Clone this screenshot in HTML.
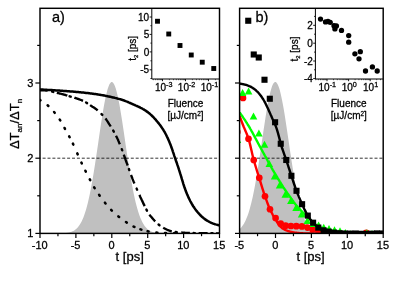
<!DOCTYPE html>
<html><head><meta charset="utf-8"><title>figure</title>
<style>html,body{margin:0;padding:0;background:#fff;}svg{display:block;will-change:transform;filter:blur(0.4px);}</style>
</head><body>
<svg width="399" height="282" viewBox="0 0 399 282" font-family='"Liberation Sans", sans-serif' fill="#000">
<style>text{stroke:#000;stroke-width:0.28px;stroke-linejoin:round;}</style>
<rect width="399" height="282" fill="#fff"/>
<defs>
<clipPath id="ca"><rect x="40.0" y="8.3" width="179.5" height="225.1"/></clipPath>
<clipPath id="cb"><rect x="239.6" y="8.3" width="143.6" height="225.1"/></clipPath>
</defs>
<g clip-path="url(#ca)">
<path d="M40.00,233.40 L40.00,233.40 L40.90,233.40 L41.80,233.40 L42.71,233.40 L43.61,233.40 L44.51,233.40 L45.41,233.40 L46.31,233.40 L47.22,233.40 L48.12,233.40 L49.02,233.40 L49.92,233.40 L50.82,233.40 L51.73,233.39 L52.63,233.39 L53.53,233.39 L54.43,233.38 L55.33,233.38 L56.24,233.37 L57.14,233.36 L58.04,233.35 L58.94,233.34 L59.84,233.32 L60.75,233.29 L61.65,233.26 L62.55,233.22 L63.45,233.17 L64.35,233.11 L65.26,233.04 L66.16,232.94 L67.06,232.83 L67.96,232.68 L68.86,232.51 L69.77,232.29 L70.67,232.04 L71.57,231.73 L72.47,231.36 L73.37,230.92 L74.28,230.40 L75.18,229.78 L76.08,229.06 L76.98,228.22 L77.88,227.25 L78.79,226.12 L79.69,224.83 L80.59,223.35 L81.49,221.67 L82.39,219.77 L83.30,217.64 L84.20,215.25 L85.10,212.60 L86.00,209.67 L86.90,206.45 L87.81,202.93 L88.71,199.10 L89.61,194.97 L90.51,190.53 L91.41,185.80 L92.32,180.79 L93.22,175.51 L94.12,169.99 L95.02,164.26 L95.92,158.35 L96.83,152.31 L97.73,146.17 L98.63,139.99 L99.53,133.83 L100.43,127.74 L101.34,121.78 L102.24,116.03 L103.14,110.53 L104.04,105.36 L104.94,100.57 L105.85,96.23 L106.75,92.38 L107.65,89.09 L108.55,86.38 L109.45,84.30 L110.36,82.88 L111.26,82.12 L112.16,82.05 L113.06,82.67 L113.96,83.96 L114.87,85.91 L115.77,88.50 L116.67,91.68 L117.57,95.42 L118.47,99.66 L119.38,104.37 L120.28,109.47 L121.18,114.90 L122.08,120.61 L122.98,126.53 L123.89,132.60 L124.79,138.76 L125.69,144.93 L126.59,151.08 L127.49,157.15 L128.40,163.09 L129.30,168.86 L130.20,174.43 L131.10,179.76 L132.01,184.82 L132.91,189.61 L133.81,194.11 L134.71,198.30 L135.61,202.19 L136.52,205.77 L137.42,209.05 L138.32,212.04 L139.22,214.74 L140.12,217.18 L141.03,219.36 L141.93,221.31 L142.83,223.03 L143.73,224.55 L144.63,225.88 L145.54,227.03 L146.44,228.04 L147.34,228.91 L148.24,229.65 L149.14,230.28 L150.05,230.82 L150.95,231.28 L151.85,231.66 L152.75,231.98 L153.65,232.25 L154.56,232.47 L155.46,232.65 L156.36,232.80 L157.26,232.92 L158.16,233.02 L159.07,233.10 L159.97,233.16 L160.87,233.21 L161.77,233.26 L162.67,233.29 L163.58,233.31 L164.48,233.33 L165.38,233.35 L166.28,233.36 L167.18,233.37 L168.09,233.38 L168.99,233.38 L169.89,233.39 L170.79,233.39 L171.69,233.39 L172.60,233.39 L173.50,233.40 L174.40,233.40 L175.30,233.40 L176.20,233.40 L177.11,233.40 L178.01,233.40 L178.91,233.40 L179.81,233.40 L180.71,233.40 L181.62,233.40 L182.52,233.40 L183.42,233.40 L184.32,233.40 L185.22,233.40 L186.13,233.40 L187.03,233.40 L187.93,233.40 L188.83,233.40 L189.73,233.40 L190.64,233.40 L191.54,233.40 L192.44,233.40 L193.34,233.40 L194.24,233.40 L195.15,233.40 L196.05,233.40 L196.95,233.40 L197.85,233.40 L198.75,233.40 L199.66,233.40 L200.56,233.40 L201.46,233.40 L202.36,233.40 L203.26,233.40 L204.17,233.40 L205.07,233.40 L205.97,233.40 L206.87,233.40 L207.77,233.40 L208.68,233.40 L209.58,233.40 L210.48,233.40 L211.38,233.40 L212.28,233.40 L213.19,233.40 L214.09,233.40 L214.99,233.40 L215.89,233.40 L216.79,233.40 L217.70,233.40 L218.60,233.40 L219.50,233.40 L219.50,233.40 Z" fill="#c0c0c0"/>
<line x1="40.0" y1="158.2" x2="219.5" y2="158.2" stroke="#000" stroke-width="0.8" stroke-dasharray="3 1.9" stroke-dashoffset="2.3"/>
<line x1="39.59" y1="99.71" x2="40.41" y2="100.29" stroke="#000" stroke-width="2.55" stroke-linecap="round"/>
<line x1="47.62" y1="105.27" x2="48.38" y2="105.93" stroke="#000" stroke-width="2.55" stroke-linecap="round"/>
<line x1="54.08" y1="112.02" x2="54.72" y2="112.78" stroke="#000" stroke-width="2.55" stroke-linecap="round"/>
<line x1="59.73" y1="119.58" x2="60.27" y2="120.42" stroke="#000" stroke-width="2.55" stroke-linecap="round"/>
<line x1="64.51" y1="127.96" x2="64.99" y2="128.84" stroke="#000" stroke-width="2.55" stroke-linecap="round"/>
<line x1="69.17" y1="136.36" x2="69.63" y2="137.24" stroke="#000" stroke-width="2.55" stroke-linecap="round"/>
<line x1="72.89" y1="143.65" x2="73.31" y2="144.55" stroke="#000" stroke-width="2.55" stroke-linecap="round"/>
<line x1="77.29" y1="153.44" x2="77.71" y2="154.36" stroke="#000" stroke-width="2.55" stroke-linecap="round"/>
<line x1="81.39" y1="162.55" x2="81.81" y2="163.45" stroke="#000" stroke-width="2.55" stroke-linecap="round"/>
<line x1="85.38" y1="170.75" x2="85.82" y2="171.65" stroke="#000" stroke-width="2.55" stroke-linecap="round"/>
<line x1="89.77" y1="179.31" x2="90.23" y2="180.19" stroke="#000" stroke-width="2.55" stroke-linecap="round"/>
<line x1="94.14" y1="187.32" x2="94.66" y2="188.18" stroke="#000" stroke-width="2.55" stroke-linecap="round"/>
<line x1="99.11" y1="194.84" x2="99.69" y2="195.66" stroke="#000" stroke-width="2.55" stroke-linecap="round"/>
<line x1="104.94" y1="202.71" x2="105.56" y2="203.49" stroke="#000" stroke-width="2.55" stroke-linecap="round"/>
<line x1="111.15" y1="209.90" x2="111.85" y2="210.60" stroke="#000" stroke-width="2.55" stroke-linecap="round"/>
<line x1="118.36" y1="216.39" x2="119.14" y2="217.01" stroke="#000" stroke-width="2.55" stroke-linecap="round"/>
<line x1="125.98" y1="222.02" x2="126.82" y2="222.58" stroke="#000" stroke-width="2.55" stroke-linecap="round"/>
<line x1="133.55" y1="226.53" x2="134.45" y2="226.97" stroke="#000" stroke-width="2.55" stroke-linecap="round"/>
<line x1="140.42" y1="229.35" x2="141.38" y2="229.65" stroke="#000" stroke-width="2.55" stroke-linecap="round"/>
<line x1="147.61" y1="231.20" x2="148.59" y2="231.40" stroke="#000" stroke-width="2.55" stroke-linecap="round"/>
<line x1="156.40" y1="232.55" x2="157.40" y2="232.65" stroke="#000" stroke-width="2.55" stroke-linecap="round"/>
<line x1="165.00" y1="233.08" x2="166.00" y2="233.12" stroke="#000" stroke-width="2.55" stroke-linecap="round"/>
<line x1="174.00" y1="233.29" x2="175.00" y2="233.31" stroke="#000" stroke-width="2.55" stroke-linecap="round"/>
<polyline points="40.0,90.2 40.5,90.2 41.0,90.2 41.4,90.2 41.9,90.2 42.4,90.3 42.9,90.3 43.4,90.3 43.8,90.3 44.3,90.4 44.8,90.4 45.3,90.4 45.7,90.5 46.2,90.5 46.7,90.6 47.2,90.6 47.7,90.7" fill="none" stroke="#000" stroke-width="2.35"/>
<polyline points="56.8,92.8 57.2,92.9 57.7,93.0 58.2,93.1 58.7,93.2 59.2,93.4 59.6,93.5 60.1,93.6 60.6,93.7 61.1,93.8 61.6,94.0 62.0,94.1 62.5,94.2 63.0,94.4 63.5,94.5 63.9,94.6 64.4,94.7 64.9,94.9 65.4,95.0 65.9,95.2 66.3,95.3 66.8,95.4 67.3,95.6" fill="none" stroke="#000" stroke-width="2.35"/>
<polyline points="74.4,97.6 74.8,97.8 75.3,97.9 75.8,98.1 76.3,98.3 76.8,98.4 77.2,98.6 77.7,98.8 78.2,98.9 78.7,99.1 79.2,99.3 79.6,99.5 80.1,99.7 80.6,99.8 81.1,100.0 81.6,100.2 82.0,100.4 82.5,100.7 83.0,100.9" fill="none" stroke="#000" stroke-width="2.35"/>
<polyline points="90.1,105.1 90.5,105.4 91.0,105.8 91.5,106.1 92.0,106.4 92.4,106.7 92.9,107.0 93.4,107.3 93.9,107.6 94.4,107.9 94.8,108.3 95.3,108.6 95.8,108.9 96.3,109.3 96.8,109.6 97.2,110.0 97.7,110.4" fill="none" stroke="#000" stroke-width="2.35"/>
<polyline points="105.4,118.4 105.9,119.0 106.3,119.7 106.8,120.4 107.3,121.1 107.8,121.8 108.3,122.6 108.7,123.4 109.2,124.2 109.7,124.9 110.2,125.7 110.7,126.5" fill="none" stroke="#000" stroke-width="2.35"/>
<polyline points="116.0,135.7 116.5,136.7 117.0,137.7 117.5,138.8 118.0,139.8 118.4,140.9 118.9,142.0 119.4,143.2 119.9,144.3" fill="none" stroke="#000" stroke-width="2.35"/>
<polyline points="123.8,154.7 124.3,156.1 124.8,157.5 125.3,158.9 125.7,160.2 126.2,161.5 126.7,162.8 127.2,164.1 127.7,165.5" fill="none" stroke="#000" stroke-width="2.35"/>
<polyline points="131.0,175.0 131.5,176.2 132.0,177.5 132.4,178.7 132.9,179.9 133.4,181.1 133.9,182.3 134.4,183.4" fill="none" stroke="#000" stroke-width="2.35"/>
<polyline points="139.4,194.9 139.9,195.9 140.3,197.0 140.8,198.0 141.3,199.0 141.8,200.1 142.3,201.1 142.7,202.1 143.2,203.1 143.7,204.1 144.2,205.1 144.7,206.1" fill="none" stroke="#000" stroke-width="2.35"/>
<polyline points="149.4,214.6 149.9,215.3 150.4,215.9 150.9,216.5 151.4,217.1 151.8,217.6 152.3,218.2 152.8,218.7 153.3,219.3 153.8,219.8 154.2,220.3 154.7,220.8 155.2,221.3" fill="none" stroke="#000" stroke-width="2.35"/>
<polyline points="163.2,227.7 163.7,228.0 164.2,228.3 164.7,228.5 165.1,228.8 165.6,229.0 166.1,229.2 166.6,229.5 167.1,229.7 167.5,229.9 168.0,230.1 168.5,230.3 169.0,230.5 169.4,230.7 169.9,230.8 170.4,231.0 170.9,231.1 171.4,231.3 171.8,231.4" fill="none" stroke="#000" stroke-width="2.35"/>
<polyline points="181.3,232.5 181.8,232.5 182.3,232.6 182.7,232.6 183.2,232.6 183.7,232.7 184.2,232.7 184.7,232.7 185.1,232.8 185.6,232.8 186.1,232.8 186.6,232.9 187.0,232.9 187.5,232.9 188.0,232.9 188.5,233.0 189.0,233.0 189.4,233.0 189.9,233.0" fill="none" stroke="#000" stroke-width="2.35"/>
<polyline points="198.5,233.1 199.0,233.2 199.5,233.2 200.0,233.2 200.5,233.2 200.9,233.2 201.4,233.2 201.9,233.2 202.4,233.2 202.9,233.2 203.3,233.2 203.8,233.2 204.3,233.2 204.8,233.2 205.3,233.2 205.7,233.2 206.2,233.2 206.7,233.2 207.2,233.2 207.6,233.2" fill="none" stroke="#000" stroke-width="2.35"/>
<polyline points="216.0,233.3 216.5,233.3 217.0,233.3 217.5,233.3 217.9,233.3 218.4,233.3 218.9,233.3 219.4,233.3" fill="none" stroke="#000" stroke-width="2.35"/>
<line x1="52.11" y1="91.64" x2="53.28" y2="91.93" stroke="#000" stroke-width="2.4" stroke-linecap="round"/>
<line x1="69.60" y1="96.31" x2="70.75" y2="96.65" stroke="#000" stroke-width="2.4" stroke-linecap="round"/>
<line x1="86.07" y1="102.50" x2="87.09" y2="103.13" stroke="#000" stroke-width="2.4" stroke-linecap="round"/>
<line x1="101.49" y1="114.07" x2="102.32" y2="114.94" stroke="#000" stroke-width="2.4" stroke-linecap="round"/>
<line x1="113.22" y1="130.58" x2="113.83" y2="131.62" stroke="#000" stroke-width="2.4" stroke-linecap="round"/>
<line x1="121.81" y1="149.23" x2="122.24" y2="150.35" stroke="#000" stroke-width="2.4" stroke-linecap="round"/>
<line x1="128.90" y1="169.01" x2="129.29" y2="170.14" stroke="#000" stroke-width="2.4" stroke-linecap="round"/>
<line x1="136.63" y1="188.62" x2="137.12" y2="189.72" stroke="#000" stroke-width="2.4" stroke-linecap="round"/>
<line x1="146.41" y1="209.57" x2="146.98" y2="210.63" stroke="#000" stroke-width="2.4" stroke-linecap="round"/>
<line x1="158.56" y1="224.51" x2="159.49" y2="225.27" stroke="#000" stroke-width="2.4" stroke-linecap="round"/>
<line x1="175.68" y1="231.93" x2="176.87" y2="232.07" stroke="#000" stroke-width="2.4" stroke-linecap="round"/>
<line x1="193.63" y1="233.07" x2="194.83" y2="233.09" stroke="#000" stroke-width="2.4" stroke-linecap="round"/>
<line x1="211.36" y1="233.28" x2="212.56" y2="233.28" stroke="#000" stroke-width="2.4" stroke-linecap="round"/>
<polyline points="40.0,89.5 40.8,89.5 41.5,89.6 42.3,89.6 43.0,89.6 43.8,89.7 44.5,89.7 45.3,89.8 46.0,89.8 46.8,89.8 47.5,89.9 48.3,89.9 49.0,90.0 49.8,90.0 50.5,90.1 51.3,90.1 52.0,90.1 52.8,90.2 53.5,90.2 54.3,90.3 55.0,90.3 55.8,90.4 56.5,90.4 57.3,90.5 58.0,90.5 58.8,90.6 59.5,90.6 60.3,90.7 61.0,90.7 61.8,90.8 62.5,90.8 63.3,90.9 64.0,90.9 64.8,91.0 65.5,91.0 66.3,91.1 67.0,91.2 67.8,91.2 68.5,91.3 69.3,91.3 70.0,91.4 70.8,91.4 71.5,91.5 72.3,91.6 73.0,91.6 73.8,91.7 74.5,91.8 75.3,91.8 76.1,91.9 76.8,92.0 77.6,92.0 78.3,92.1 79.1,92.2 79.8,92.2 80.6,92.3 81.3,92.4 82.1,92.5 82.8,92.5 83.6,92.6 84.3,92.7 85.1,92.8 85.8,92.9 86.6,92.9 87.3,93.0 88.1,93.1 88.8,93.2 89.6,93.3 90.3,93.4 91.1,93.5 91.8,93.6 92.6,93.7 93.3,93.8 94.1,93.9 94.8,94.0 95.6,94.1 96.3,94.2 97.1,94.3 97.8,94.4 98.6,94.6 99.3,94.7 100.1,94.8 100.8,94.9 101.6,95.1 102.3,95.2 103.1,95.3 103.8,95.5 104.6,95.6 105.3,95.8 106.1,95.9 106.8,96.1 107.6,96.2 108.3,96.4 109.1,96.5 109.8,96.7 110.6,96.8 111.3,97.0 112.1,97.2 112.9,97.4 113.6,97.5 114.4,97.7 115.1,97.9 115.9,98.1 116.6,98.3 117.4,98.5 118.1,98.7 118.9,98.9 119.6,99.1 120.4,99.3 121.1,99.5 121.9,99.8 122.6,100.0 123.4,100.3 124.1,100.5 124.9,100.8 125.6,101.1 126.4,101.4 127.1,101.7 127.9,102.0 128.6,102.3 129.4,102.6 130.1,103.0 130.9,103.3 131.6,103.7 132.4,104.0 133.1,104.3 133.9,104.7 134.6,105.0 135.4,105.4 136.1,105.7 136.9,106.0 137.6,106.3 138.4,106.7 139.1,107.0 139.9,107.4 140.6,107.8 141.4,108.1 142.1,108.5 142.9,109.0 143.6,109.4 144.4,109.9 145.1,110.3 145.9,110.8 146.6,111.4 147.4,111.9 148.2,112.5 148.9,113.1 149.7,113.7 150.4,114.4 151.2,115.0 151.9,115.8 152.7,116.5 153.4,117.2 154.2,118.0 154.9,118.9 155.7,119.7 156.4,120.6 157.2,121.5 157.9,122.4 158.7,123.3 159.4,124.3 160.2,125.3 160.9,126.3 161.7,127.4 162.4,128.5 163.2,129.6 163.9,130.9 164.7,132.2 165.4,133.5 166.2,135.0 166.9,136.5 167.7,138.1 168.4,139.7 169.2,141.5 169.9,143.3 170.7,145.2 171.4,147.3 172.2,149.4 172.9,151.6 173.7,153.9 174.4,156.1 175.2,158.3 175.9,160.5 176.7,162.7 177.4,164.9 178.2,167.1 178.9,169.4 179.7,171.8 180.4,174.2 181.2,176.7 181.9,179.2 182.7,181.7 183.4,184.1 184.2,186.5 185.0,188.7 185.7,190.8 186.5,192.7 187.2,194.6 188.0,196.3 188.7,197.9 189.5,199.5 190.2,201.0 191.0,202.4 191.7,203.7 192.5,205.0 193.2,206.2 194.0,207.3 194.7,208.4 195.5,209.5 196.2,210.4 197.0,211.4 197.7,212.3 198.5,213.2 199.2,214.0 200.0,214.8 200.7,215.5 201.5,216.3 202.2,217.0 203.0,217.6 203.7,218.2 204.5,218.8 205.2,219.4 206.0,219.9 206.7,220.4 207.5,220.8 208.2,221.3 209.0,221.7 209.7,222.1 210.5,222.4 211.2,222.8 212.0,223.1 212.7,223.4 213.5,223.7 214.2,223.9 215.0,224.2 215.7,224.4 216.5,224.6 217.2,224.8 218.0,225.0 218.7,225.2 219.5,225.4" fill="none" stroke="#000" stroke-width="2.5"/>
</g>
<g clip-path="url(#cb)">
<path d="M239.60,233.40 L239.60,229.05 L240.32,228.38 L241.04,227.63 L241.76,226.79 L242.49,225.85 L243.21,224.80 L243.93,223.63 L244.65,222.33 L245.37,220.90 L246.09,219.32 L246.82,217.59 L247.54,215.70 L248.26,213.64 L248.98,211.40 L249.70,208.98 L250.42,206.37 L251.15,203.58 L251.87,200.58 L252.59,197.39 L253.31,194.01 L254.03,190.43 L254.75,186.67 L255.48,182.72 L256.20,178.60 L256.92,174.31 L257.64,169.87 L258.36,165.30 L259.08,160.61 L259.81,155.82 L260.53,150.95 L261.25,146.03 L261.97,141.09 L262.69,136.15 L263.41,131.25 L264.13,126.40 L264.86,121.66 L265.58,117.04 L266.30,112.57 L267.02,108.31 L267.74,104.26 L268.46,100.47 L269.19,96.97 L269.91,93.78 L270.63,90.92 L271.35,88.43 L272.07,86.33 L272.79,84.62 L273.52,83.34 L274.24,82.48 L274.96,82.05 L275.68,82.06 L276.40,82.51 L277.12,83.40 L277.85,84.71 L278.57,86.43 L279.29,88.56 L280.01,91.07 L280.73,93.94 L281.45,97.15 L282.17,100.67 L282.90,104.47 L283.62,108.53 L284.34,112.81 L285.06,117.28 L285.78,121.91 L286.50,126.67 L287.23,131.51 L287.95,136.42 L288.67,141.36 L289.39,146.30 L290.11,151.22 L290.83,156.08 L291.56,160.86 L292.28,165.55 L293.00,170.12 L293.72,174.55 L294.44,178.82 L295.16,182.94 L295.89,186.88 L296.61,190.63 L297.33,194.20 L298.05,197.57 L298.77,200.75 L299.49,203.73 L300.22,206.52 L300.94,209.12 L301.66,211.53 L302.38,213.75 L303.10,215.80 L303.82,217.69 L304.54,219.41 L305.27,220.98 L305.99,222.40 L306.71,223.69 L307.43,224.86 L308.15,225.90 L308.87,226.84 L309.60,227.68 L310.32,228.42 L311.04,229.08 L311.76,229.66 L312.48,230.18 L313.20,230.63 L313.93,231.02 L314.65,231.37 L315.37,231.67 L316.09,231.93 L316.81,232.15 L317.53,232.35 L318.26,232.51 L318.98,232.65 L319.70,232.77 L320.42,232.88 L321.14,232.96 L321.86,233.04 L322.58,233.10 L323.31,233.15 L324.03,233.20 L324.75,233.23 L325.47,233.26 L326.19,233.29 L326.91,233.31 L327.64,233.33 L328.36,233.34 L329.08,233.35 L329.80,233.36 L330.52,233.37 L331.24,233.38 L331.97,233.38 L332.69,233.38 L333.41,233.39 L334.13,233.39 L334.85,233.39 L335.57,233.39 L336.30,233.40 L337.02,233.40 L337.74,233.40 L338.46,233.40 L339.18,233.40 L339.90,233.40 L340.63,233.40 L341.35,233.40 L342.07,233.40 L342.79,233.40 L343.51,233.40 L344.23,233.40 L344.95,233.40 L345.68,233.40 L346.40,233.40 L347.12,233.40 L347.84,233.40 L348.56,233.40 L349.28,233.40 L350.01,233.40 L350.73,233.40 L351.45,233.40 L352.17,233.40 L352.89,233.40 L353.61,233.40 L354.34,233.40 L355.06,233.40 L355.78,233.40 L356.50,233.40 L357.22,233.40 L357.94,233.40 L358.67,233.40 L359.39,233.40 L360.11,233.40 L360.83,233.40 L361.55,233.40 L362.27,233.40 L362.99,233.40 L363.72,233.40 L364.44,233.40 L365.16,233.40 L365.88,233.40 L366.60,233.40 L367.32,233.40 L368.05,233.40 L368.77,233.40 L369.49,233.40 L370.21,233.40 L370.93,233.40 L371.65,233.40 L372.38,233.40 L373.10,233.40 L373.82,233.40 L374.54,233.40 L375.26,233.40 L375.98,233.40 L376.71,233.40 L377.43,233.40 L378.15,233.40 L378.87,233.40 L379.59,233.40 L380.31,233.40 L381.04,233.40 L381.76,233.40 L382.48,233.40 L383.20,233.40 L383.20,233.40 Z" fill="#c0c0c0"/>
<line x1="239.6" y1="158.2" x2="383.2" y2="158.2" stroke="#000" stroke-width="0.8" stroke-dasharray="3 1.9" stroke-dashoffset="2.3"/>
<polyline points="239.6,116.0 240.2,117.6 240.8,119.2 241.4,120.8 242.0,122.4 242.6,124.0 243.2,125.5 243.8,127.0 244.4,128.4 245.0,129.8 245.6,131.2 246.2,132.6 246.8,134.0 247.4,135.6 248.0,137.3 248.6,139.1 249.2,141.1 249.8,143.4 250.4,145.9 251.0,148.5 251.6,151.1 252.2,153.7 252.8,156.3 253.4,158.7 254.0,160.9 254.6,163.0 255.2,165.0 255.8,167.0 256.4,169.0 257.0,170.9 257.6,172.8 258.2,174.7 258.8,176.6 259.4,178.5 260.0,180.4 260.6,182.4 261.2,184.4 261.8,186.3 262.4,188.3 263.0,190.2 263.6,192.1 264.2,193.9 264.8,195.7 265.4,197.4 266.0,199.1 266.6,200.7 267.2,202.4 267.8,204.0 268.4,205.5 269.0,207.0 269.6,208.4 270.2,209.7 270.8,210.9 271.4,212.2 272.0,213.3 272.6,214.5 273.2,215.6 273.8,216.6 274.4,217.7 275.0,218.7 275.6,219.7 276.2,220.6 276.8,221.6 277.4,222.6 278.0,223.6 278.6,224.4 279.2,225.3 279.8,226.0 280.4,226.7 281.0,227.2 281.6,227.7 282.2,228.2 282.8,228.6 283.4,229.0 284.0,229.3 284.6,229.6 285.2,229.9 285.8,230.2 286.4,230.5 287.0,230.7 287.6,230.9 288.2,231.1 288.8,231.3 289.4,231.4 290.0,231.6 290.6,231.8 291.2,231.9 291.8,232.0 292.4,232.1 293.0,232.3 293.6,232.4 294.2,232.5 294.8,232.6 295.4,232.7 296.0,232.7 296.6,232.8 297.2,232.9 297.8,232.9 298.4,233.0 299.0,233.0 299.6,233.1 300.2,233.1 300.8,233.2 301.4,233.2 302.0,233.3 302.6,233.3 303.2,233.4 303.8,233.4 304.4,233.4 305.0,233.5 305.6,233.5 306.2,233.5 306.8,233.5 307.4,233.5 308.0,233.5 308.6,233.5 309.2,233.5 309.8,233.5 310.4,233.5 311.0,233.5 311.6,233.5 312.2,233.5 312.8,233.6 313.4,233.6 314.0,233.6 314.6,233.6 315.2,233.6 315.8,233.6 316.4,233.6 317.0,233.6 317.6,233.6 318.2,233.6 318.8,233.6 319.4,233.6 320.0,233.6 320.6,233.6 321.2,233.6 321.8,233.6 322.4,233.6 323.0,233.6 323.6,233.6 324.2,233.6 324.8,233.6 325.4,233.6 326.0,233.6 326.6,233.7 327.2,233.7 327.8,233.7 328.4,233.7 329.0,233.7 329.6,233.7 330.2,233.7 330.8,233.7 331.4,233.7 332.0,233.7 332.6,233.7 333.2,233.7 333.8,233.7 334.4,233.7 335.0,233.7 335.6,233.7 336.2,233.7 336.8,233.7 337.4,233.7 338.0,233.7 338.6,233.7 339.2,233.7 339.8,233.7 340.4,233.7 341.0,233.7 341.6,233.7 342.2,233.7 342.8,233.7 343.4,233.7 344.0,233.7 344.6,233.7 345.2,233.7 345.8,233.7 346.4,233.7 347.0,233.7 347.6,233.7 348.2,233.8 348.8,233.8 349.4,233.8 350.0,233.8 350.6,233.8 351.2,233.8 351.8,233.8 352.4,233.8 353.0,233.8 353.6,233.8 354.2,233.8 354.8,233.8 355.4,233.8 356.0,233.8 356.6,233.8 357.2,233.8 357.8,233.8 358.4,233.8 359.0,233.8 359.6,233.8 360.2,233.8 360.8,233.8 361.4,233.8 362.0,233.8 362.6,233.8 363.2,233.8 363.8,233.8 364.4,233.8 365.0,233.8 365.6,233.8 366.2,233.8 366.8,233.8 367.4,233.8 368.0,233.8 368.6,233.8 369.2,233.8 369.8,233.8 370.4,233.8 371.0,233.8 371.6,233.8 372.2,233.8 372.8,233.8 373.4,233.8 374.0,233.8 374.6,233.8 375.2,233.8 375.8,233.8 376.4,233.8 377.0,233.8 377.6,233.8 378.2,233.8 378.8,233.8 379.4,233.8 380.0,233.8 380.6,233.8 381.2,233.8 381.8,233.8 382.4,233.8 383.0,233.8" fill="none" stroke="#ff0000" stroke-width="2.4"/>
<circle cx="237.3" cy="132" r="3.35" fill="#ff0000"/>
<circle cx="243" cy="97.9" r="3.35" fill="#ff0000"/>
<circle cx="248.5" cy="138.75" r="3.35" fill="#ff0000"/>
<circle cx="253.75" cy="160" r="3.35" fill="#ff0000"/>
<circle cx="259.3" cy="177.8" r="3.35" fill="#ff0000"/>
<circle cx="265" cy="196.25" r="3.35" fill="#ff0000"/>
<circle cx="270" cy="209.25" r="3.35" fill="#ff0000"/>
<circle cx="275.6" cy="218.0" r="3.35" fill="#ff0000"/>
<circle cx="280.7" cy="223.7" r="3.35" fill="#ff0000"/>
<circle cx="285.6" cy="225.7" r="3.35" fill="#ff0000"/>
<circle cx="290.9" cy="226.0" r="3.35" fill="#ff0000"/>
<circle cx="296.3" cy="226.2" r="3.35" fill="#ff0000"/>
<circle cx="301.9" cy="226.4" r="3.35" fill="#ff0000"/>
<circle cx="307.5" cy="227.6" r="3.35" fill="#ff0000"/>
<circle cx="312.6" cy="229.4" r="3.35" fill="#ff0000"/>
<circle cx="318" cy="230.6" r="3.35" fill="#ff0000"/>
<circle cx="323.4" cy="231.6" r="3.35" fill="#ff0000"/>
<circle cx="366.3" cy="232.9" r="3.35" fill="#ff0000"/>
<polyline points="239.6,112.5 240.2,113.3 240.8,114.1 241.4,115.0 242.0,115.8 242.6,116.7 243.2,117.6 243.8,118.4 244.4,119.3 245.0,120.2 245.6,121.2 246.2,122.1 246.8,123.0 247.4,124.0 248.0,125.0 248.6,125.9 249.2,126.9 249.8,127.9 250.4,129.0 251.0,130.0 251.6,131.1 252.2,132.1 252.8,133.2 253.4,134.4 254.0,135.5 254.6,136.6 255.2,137.8 255.8,138.9 256.4,140.0 257.0,141.1 257.6,142.2 258.2,143.4 258.8,144.5 259.4,145.6 260.0,146.7 260.6,147.8 261.2,148.9 261.8,150.0 262.4,151.1 263.0,152.2 263.6,153.3 264.2,154.4 264.8,155.5 265.4,156.5 266.0,157.6 266.6,158.7 267.2,159.8 267.8,161.0 268.4,162.1 269.0,163.2 269.6,164.3 270.2,165.4 270.8,166.4 271.4,167.5 272.0,168.5 272.6,169.6 273.2,170.6 273.8,171.6 274.4,172.7 275.0,173.7 275.6,174.7 276.2,175.7 276.8,176.7 277.4,177.7 278.0,178.6 278.6,179.6 279.2,180.6 279.8,181.6 280.4,182.5 281.0,183.5 281.6,184.5 282.2,185.4 282.8,186.3 283.4,187.3 284.0,188.2 284.6,189.1 285.2,190.0 285.8,190.9 286.4,191.8 287.0,192.6 287.6,193.5 288.2,194.3 288.8,195.1 289.4,196.0 290.0,196.8 290.6,197.6 291.2,198.5 291.8,199.3 292.4,200.2 293.0,201.0 293.6,201.9 294.2,202.7 294.8,203.5 295.4,204.3 296.0,205.0 296.6,205.7 297.2,206.4 297.8,207.1 298.4,207.7 299.0,208.4 299.6,209.0 300.2,209.6 300.8,210.3 301.4,210.9 302.0,211.5 302.6,212.2 303.2,212.8 303.8,213.4 304.4,214.0 305.0,214.6 305.6,215.2 306.2,215.8 306.8,216.4 307.4,217.0 308.0,217.5 308.6,218.1 309.2,218.7 309.8,219.3 310.4,219.9 311.0,220.5 311.6,221.2 312.2,221.8 312.8,222.4 313.4,222.9 314.0,223.4 314.6,223.8 315.2,224.3 315.8,224.7 316.4,225.1 317.0,225.4 317.6,225.8 318.2,226.1 318.8,226.5 319.4,226.8 320.0,227.1 320.6,227.4 321.2,227.7 321.8,228.0 322.4,228.3 323.0,228.5 323.6,228.7 324.2,229.0 324.8,229.2 325.4,229.3 326.0,229.5 326.6,229.7 327.2,229.9 327.8,230.0 328.4,230.2 329.0,230.3 329.6,230.4 330.2,230.5 330.8,230.7 331.4,230.8 332.0,230.9 332.6,231.0 333.2,231.1 333.8,231.2 334.4,231.3 335.0,231.4 335.6,231.5 336.2,231.6 336.8,231.7 337.4,231.7 338.0,231.8 338.6,231.9 339.2,231.9 339.8,232.0 340.4,232.0 341.0,232.1 341.6,232.1 342.2,232.2 342.8,232.2 343.4,232.3 344.0,232.3 344.6,232.3 345.2,232.4 345.8,232.4 346.4,232.4 347.0,232.5 347.6,232.5 348.2,232.5 348.8,232.6 349.4,232.6 350.0,232.6 350.6,232.7 351.2,232.7 351.8,232.7 352.4,232.7 353.0,232.7 353.6,232.8 354.2,232.8 354.8,232.8 355.4,232.8 356.0,232.8 356.6,232.8 357.2,232.9 357.8,232.9 358.4,232.9 359.0,232.9 359.6,232.9 360.2,232.9 360.8,232.9 361.4,232.9 362.0,233.0 362.6,233.0 363.2,233.0 363.8,233.0 364.4,233.0 365.0,233.0 365.6,233.0 366.2,233.0 366.8,233.0 367.4,233.1 368.0,233.1 368.6,233.1 369.2,233.1 369.8,233.1 370.4,233.1 371.0,233.1 371.6,233.1 372.2,233.1 372.8,233.1 373.4,233.1 374.0,233.1 374.6,233.2 375.2,233.2 375.8,233.2 376.4,233.2 377.0,233.2 377.6,233.2 378.2,233.2 378.8,233.2 379.4,233.2 380.0,233.2 380.6,233.2 381.2,233.2 381.8,233.2 382.4,233.2 383.0,233.2" fill="none" stroke="#00ff00" stroke-width="2.4"/>
<path d="M233.60,143.00 L241.20,143.00 L237.40,136.00 Z" fill="#00ff00"/>
<path d="M238.80,96.00 L246.40,96.00 L242.60,89.00 Z" fill="#00ff00"/>
<path d="M244.80,94.50 L252.40,94.50 L248.60,87.50 Z" fill="#00ff00"/>
<path d="M249.70,119.50 L257.30,119.50 L253.50,112.50 Z" fill="#00ff00"/>
<path d="M255.10,136.50 L262.70,136.50 L258.90,129.50 Z" fill="#00ff00"/>
<path d="M260.70,147.80 L268.30,147.80 L264.50,140.80 Z" fill="#00ff00"/>
<path d="M265.50,167.00 L273.10,167.00 L269.30,160.00 Z" fill="#00ff00"/>
<path d="M270.80,179.60 L278.40,179.60 L274.60,172.60 Z" fill="#00ff00"/>
<path d="M275.80,188.50 L283.40,188.50 L279.60,181.50 Z" fill="#00ff00"/>
<path d="M281.50,197.80 L289.10,197.80 L285.30,190.80 Z" fill="#00ff00"/>
<path d="M287.10,204.10 L294.70,204.10 L290.90,197.10 Z" fill="#00ff00"/>
<path d="M292.30,211.00 L299.90,211.00 L296.10,204.00 Z" fill="#00ff00"/>
<path d="M297.80,217.40 L305.40,217.40 L301.60,210.40 Z" fill="#00ff00"/>
<path d="M303.50,223.90 L311.10,223.90 L307.30,216.90 Z" fill="#00ff00"/>
<path d="M309.70,226.90 L317.30,226.90 L313.50,219.90 Z" fill="#00ff00"/>
<path d="M314.80,228.50 L322.40,228.50 L318.60,221.50 Z" fill="#00ff00"/>
<path d="M319.95,230.70 L327.55,230.70 L323.75,223.70 Z" fill="#00ff00"/>
<path d="M325.20,232.10 L332.80,232.10 L329.00,225.10 Z" fill="#00ff00"/>
<path d="M330.70,233.30 L338.30,233.30 L334.50,226.30 Z" fill="#00ff00"/>
<path d="M336.20,234.30 L343.80,234.30 L340.00,227.30 Z" fill="#00ff00"/>
<path d="M341.50,236.10 L349.10,236.10 L345.30,229.10 Z" fill="#00ff00"/>
<path d="M346.90,237.30 L354.50,237.30 L350.70,230.30 Z" fill="#00ff00"/>
<path d="M352.20,237.70 L359.80,237.70 L356.00,230.70 Z" fill="#00ff00"/>
<path d="M357.60,237.70 L365.20,237.70 L361.40,230.70 Z" fill="#00ff00"/>
<path d="M363.00,236.30 L370.60,236.30 L366.80,229.30 Z" fill="#00ff00"/>
<path d="M368.20,237.10 L375.80,237.10 L372.00,230.10 Z" fill="#00ff00"/>
<path d="M373.70,237.70 L381.30,237.70 L377.50,230.70 Z" fill="#00ff00"/>
<polyline points="239.6,83.7 240.2,83.7 240.8,83.8 241.4,83.9 242.0,84.0 242.6,84.1 243.2,84.2 243.8,84.3 244.4,84.5 245.0,84.6 245.6,84.8 246.2,84.9 246.8,85.1 247.4,85.3 248.0,85.6 248.6,85.8 249.2,86.1 249.8,86.3 250.4,86.6 251.0,86.9 251.6,87.3 252.2,87.6 252.8,88.0 253.4,88.4 254.0,88.8 254.6,89.3 255.2,89.7 255.8,90.2 256.4,90.8 257.0,91.3 257.6,91.9 258.2,92.5 258.8,93.2 259.4,93.9 260.0,94.7 260.6,95.5 261.2,96.3 261.8,97.2 262.4,98.1 263.0,99.0 263.6,100.0 264.2,101.0 264.8,102.1 265.4,103.3 266.0,104.5 266.6,105.8 267.2,107.1 267.8,108.3 268.4,109.6 269.0,110.9 269.6,112.2 270.2,113.6 270.8,115.0 271.4,116.3 272.0,117.7 272.6,119.1 273.2,120.5 273.8,121.8 274.4,123.1 275.0,124.4 275.6,125.8 276.2,127.4 276.8,129.1 277.4,131.1 278.0,133.2 278.6,135.4 279.2,137.6 279.8,139.9 280.4,142.4 281.0,144.6 281.6,146.6 282.2,148.5 282.8,150.2 283.4,151.9 284.0,153.6 284.6,155.3 285.2,156.9 285.8,158.7 286.4,160.5 287.0,162.3 287.6,164.1 288.2,166.0 288.8,167.8 289.4,169.7 290.0,171.5 290.6,173.4 291.2,175.2 291.8,177.0 292.4,178.8 293.0,180.7 293.6,182.5 294.2,184.3 294.8,186.0 295.4,187.8 296.0,189.5 296.6,191.1 297.2,192.6 297.8,194.2 298.4,195.6 299.0,197.1 299.6,198.5 300.2,199.9 300.8,201.3 301.4,202.7 302.0,204.0 302.6,205.3 303.2,206.6 303.8,207.9 304.4,209.2 305.0,210.4 305.6,211.6 306.2,212.8 306.8,213.9 307.4,214.9 308.0,215.9 308.6,216.8 309.2,217.7 309.8,218.6 310.4,219.4 311.0,220.2 311.6,221.0 312.2,221.7 312.8,222.4 313.4,223.0 314.0,223.7 314.6,224.3 315.2,224.9 315.8,225.5 316.4,226.1 317.0,226.6 317.6,227.1 318.2,227.5 318.8,227.9 319.4,228.3 320.0,228.7 320.6,229.1 321.2,229.4 321.8,229.7 322.4,230.0 323.0,230.3 323.6,230.5 324.2,230.7 324.8,230.9 325.4,231.1 326.0,231.2 326.6,231.4 327.2,231.5 327.8,231.6 328.4,231.7 329.0,231.9 329.6,232.0 330.2,232.0 330.8,232.1 331.4,232.2 332.0,232.3 332.6,232.4 333.2,232.4 333.8,232.5 334.4,232.5 335.0,232.6 335.6,232.6 336.2,232.6 336.8,232.7 337.4,232.7 338.0,232.8 338.6,232.8 339.2,232.8 339.8,232.8 340.4,232.9 341.0,232.9 341.6,232.9 342.2,232.9 342.8,233.0 343.4,233.0 344.0,233.0 344.6,233.0 345.2,233.0 345.8,233.0 346.4,233.0 347.0,233.0 347.6,233.0 348.2,233.0 348.8,233.1 349.4,233.1 350.0,233.1 350.6,233.1 351.2,233.1 351.8,233.1 352.4,233.1 353.0,233.1 353.6,233.1 354.2,233.1 354.8,233.1 355.4,233.1 356.0,233.1 356.6,233.2 357.2,233.2 357.8,233.2 358.4,233.2 359.0,233.2 359.6,233.2 360.2,233.2 360.8,233.2 361.4,233.2 362.0,233.2 362.6,233.2 363.2,233.2 363.8,233.2 364.4,233.2 365.0,233.2 365.6,233.2 366.2,233.2 366.8,233.2 367.4,233.2 368.0,233.3 368.6,233.3 369.2,233.3 369.8,233.3 370.4,233.3 371.0,233.3 371.6,233.3 372.2,233.3 372.8,233.3 373.4,233.3 374.0,233.3 374.6,233.3 375.2,233.3 375.8,233.3 376.4,233.3 377.0,233.3 377.6,233.3 378.2,233.3 378.8,233.3 379.4,233.3 380.0,233.3 380.6,233.3 381.2,233.3 381.8,233.3 382.4,233.3 383.0,233.3" fill="none" stroke="#000" stroke-width="2.4"/>
<rect x="245.20" y="17.70" width="6.1" height="6.1" fill="#000"/>
<rect x="250.70" y="51.45" width="6.1" height="6.1" fill="#000"/>
<rect x="255.70" y="54.45" width="6.1" height="6.1" fill="#000"/>
<rect x="261.45" y="76.70" width="6.1" height="6.1" fill="#000"/>
<rect x="266.75" y="95.70" width="6.1" height="6.1" fill="#000"/>
<rect x="272.05" y="119.20" width="6.1" height="6.1" fill="#000"/>
<rect x="277.70" y="140.70" width="6.1" height="6.1" fill="#000"/>
<rect x="283.20" y="156.95" width="6.1" height="6.1" fill="#000"/>
<rect x="288.35" y="172.75" width="6.1" height="6.1" fill="#000"/>
<rect x="293.45" y="187.75" width="6.1" height="6.1" fill="#000"/>
<rect x="299.05" y="201.15" width="6.1" height="6.1" fill="#000"/>
<rect x="304.75" y="212.55" width="6.1" height="6.1" fill="#000"/>
<rect x="310.05" y="219.65" width="6.1" height="6.1" fill="#000"/>
<rect x="315.25" y="224.55" width="6.1" height="6.1" fill="#000"/>
<rect x="320.55" y="227.25" width="6.1" height="6.1" fill="#000"/>
<rect x="325.65" y="228.55" width="6.1" height="6.1" fill="#000"/>
<rect x="331.05" y="229.55" width="6.1" height="6.1" fill="#000"/>
<rect x="336.45" y="230.15" width="6.1" height="6.1" fill="#000"/>
<rect x="341.75" y="230.45" width="6.1" height="6.1" fill="#000"/>
<rect x="347.15" y="230.55" width="6.1" height="6.1" fill="#000"/>
<rect x="352.55" y="230.45" width="6.1" height="6.1" fill="#000"/>
<rect x="357.95" y="230.75" width="6.1" height="6.1" fill="#000"/>
<rect x="363.25" y="230.85" width="6.1" height="6.1" fill="#000"/>
<rect x="368.65" y="230.65" width="6.1" height="6.1" fill="#000"/>
<rect x="373.95" y="230.35" width="6.1" height="6.1" fill="#000"/>
<rect x="379.35" y="230.45" width="6.1" height="6.1" fill="#000"/>
</g>
<rect x="151.8" y="8.3" width="67.69999999999999" height="70.7" fill="#fff"/>
<rect x="315.4" y="8.3" width="67.80000000000001" height="70.7" fill="#fff"/>
<rect x="155.05" y="18.80" width="4.9" height="4.9" fill="#000"/>
<rect x="166.30" y="31.55" width="4.9" height="4.9" fill="#000"/>
<rect x="177.55" y="43.05" width="4.9" height="4.9" fill="#000"/>
<rect x="188.80" y="52.55" width="4.9" height="4.9" fill="#000"/>
<rect x="199.80" y="59.75" width="4.9" height="4.9" fill="#000"/>
<rect x="211.30" y="66.05" width="4.9" height="4.9" fill="#000"/>
<circle cx="320.5" cy="19.1" r="2.65" fill="#000"/>
<circle cx="325.5" cy="21.9" r="2.65" fill="#000"/>
<circle cx="328" cy="21.5" r="2.65" fill="#000"/>
<circle cx="330.2" cy="22.3" r="2.65" fill="#000"/>
<circle cx="334" cy="25.7" r="2.65" fill="#000"/>
<circle cx="336.4" cy="26" r="2.65" fill="#000"/>
<circle cx="334.9" cy="28.9" r="2.65" fill="#000"/>
<circle cx="341.5" cy="30.4" r="2.65" fill="#000"/>
<circle cx="348.7" cy="35.6" r="2.65" fill="#000"/>
<circle cx="348.7" cy="42.2" r="2.65" fill="#000"/>
<circle cx="354.9" cy="53.8" r="2.65" fill="#000"/>
<circle cx="360.3" cy="51.7" r="2.65" fill="#000"/>
<circle cx="359" cy="58.8" r="2.65" fill="#000"/>
<circle cx="365.5" cy="71" r="2.65" fill="#000"/>
<circle cx="372.4" cy="66.9" r="2.65" fill="#000"/>
<circle cx="377.2" cy="71" r="2.65" fill="#000"/>
<path d="M151.8,8.3 V79.0 H219.5" fill="none" stroke="#000" stroke-width="1.0"/>
<path d="M315.4,8.3 V79.0 H383.2" fill="none" stroke="#000" stroke-width="1.0"/>
<line x1="149.60000000000002" y1="17.0" x2="151.8" y2="17.0" stroke="#000" stroke-width="0.9"/>
<text x="149.20000000000002" y="20.6" font-size="10" text-anchor="end">10</text>
<line x1="149.60000000000002" y1="34.4" x2="151.8" y2="34.4" stroke="#000" stroke-width="0.9"/>
<text x="149.20000000000002" y="38.0" font-size="10" text-anchor="end">5</text>
<line x1="149.60000000000002" y1="51.9" x2="151.8" y2="51.9" stroke="#000" stroke-width="0.9"/>
<text x="149.20000000000002" y="55.5" font-size="10" text-anchor="end">0</text>
<line x1="149.60000000000002" y1="69.8" x2="151.8" y2="69.8" stroke="#000" stroke-width="0.9"/>
<text x="149.20000000000002" y="73.39999999999999" font-size="10" text-anchor="end">-5</text>
<line x1="150.4" y1="25.7" x2="151.8" y2="25.7" stroke="#000" stroke-width="0.8"/>
<line x1="150.4" y1="43.1" x2="151.8" y2="43.1" stroke="#000" stroke-width="0.8"/>
<line x1="150.4" y1="60.8" x2="151.8" y2="60.8" stroke="#000" stroke-width="0.8"/>
<line x1="150.4" y1="78.5" x2="151.8" y2="78.5" stroke="#000" stroke-width="0.8"/>
<line x1="313.2" y1="25.3" x2="315.4" y2="25.3" stroke="#000" stroke-width="0.9"/>
<text x="312.79999999999995" y="28.900000000000002" font-size="10" text-anchor="end">2</text>
<line x1="313.2" y1="43.2" x2="315.4" y2="43.2" stroke="#000" stroke-width="0.9"/>
<text x="312.79999999999995" y="46.800000000000004" font-size="10" text-anchor="end">0</text>
<line x1="313.2" y1="61.0" x2="315.4" y2="61.0" stroke="#000" stroke-width="0.9"/>
<text x="312.79999999999995" y="64.6" font-size="10" text-anchor="end">-2</text>
<line x1="313.2" y1="78.6" x2="315.4" y2="78.6" stroke="#000" stroke-width="0.9"/>
<text x="312.79999999999995" y="82.19999999999999" font-size="10" text-anchor="end">-4</text>
<line x1="314.0" y1="16.4" x2="315.4" y2="16.4" stroke="#000" stroke-width="0.8"/>
<line x1="314.0" y1="34.2" x2="315.4" y2="34.2" stroke="#000" stroke-width="0.8"/>
<line x1="314.0" y1="52.1" x2="315.4" y2="52.1" stroke="#000" stroke-width="0.8"/>
<line x1="314.0" y1="69.8" x2="315.4" y2="69.8" stroke="#000" stroke-width="0.8"/>
<line x1="153.35" y1="79.0" x2="153.35" y2="80.2" stroke="#000" stroke-width="0.6"/>
<line x1="155.58" y1="79.0" x2="155.58" y2="80.2" stroke="#000" stroke-width="0.6"/>
<line x1="157.40" y1="79.0" x2="157.40" y2="80.2" stroke="#000" stroke-width="0.6"/>
<line x1="158.94" y1="79.0" x2="158.94" y2="80.2" stroke="#000" stroke-width="0.6"/>
<line x1="160.27" y1="79.0" x2="160.27" y2="80.2" stroke="#000" stroke-width="0.6"/>
<line x1="161.45" y1="79.0" x2="161.45" y2="80.2" stroke="#000" stroke-width="0.6"/>
<line x1="162.50" y1="79.0" x2="162.50" y2="81.2" stroke="#000" stroke-width="0.9"/>
<line x1="169.42" y1="79.0" x2="169.42" y2="80.2" stroke="#000" stroke-width="0.6"/>
<line x1="173.47" y1="79.0" x2="173.47" y2="80.2" stroke="#000" stroke-width="0.6"/>
<line x1="176.35" y1="79.0" x2="176.35" y2="80.2" stroke="#000" stroke-width="0.6"/>
<line x1="178.58" y1="79.0" x2="178.58" y2="80.2" stroke="#000" stroke-width="0.6"/>
<line x1="180.40" y1="79.0" x2="180.40" y2="80.2" stroke="#000" stroke-width="0.6"/>
<line x1="181.94" y1="79.0" x2="181.94" y2="80.2" stroke="#000" stroke-width="0.6"/>
<line x1="183.27" y1="79.0" x2="183.27" y2="80.2" stroke="#000" stroke-width="0.6"/>
<line x1="184.45" y1="79.0" x2="184.45" y2="80.2" stroke="#000" stroke-width="0.6"/>
<line x1="185.50" y1="79.0" x2="185.50" y2="81.2" stroke="#000" stroke-width="0.9"/>
<line x1="192.42" y1="79.0" x2="192.42" y2="80.2" stroke="#000" stroke-width="0.6"/>
<line x1="196.47" y1="79.0" x2="196.47" y2="80.2" stroke="#000" stroke-width="0.6"/>
<line x1="199.35" y1="79.0" x2="199.35" y2="80.2" stroke="#000" stroke-width="0.6"/>
<line x1="201.58" y1="79.0" x2="201.58" y2="80.2" stroke="#000" stroke-width="0.6"/>
<line x1="203.40" y1="79.0" x2="203.40" y2="80.2" stroke="#000" stroke-width="0.6"/>
<line x1="204.94" y1="79.0" x2="204.94" y2="80.2" stroke="#000" stroke-width="0.6"/>
<line x1="206.27" y1="79.0" x2="206.27" y2="80.2" stroke="#000" stroke-width="0.6"/>
<line x1="207.45" y1="79.0" x2="207.45" y2="80.2" stroke="#000" stroke-width="0.6"/>
<line x1="208.50" y1="79.0" x2="208.50" y2="81.2" stroke="#000" stroke-width="0.9"/>
<line x1="215.42" y1="79.0" x2="215.42" y2="80.2" stroke="#000" stroke-width="0.6"/>
<line x1="219.47" y1="79.0" x2="219.47" y2="80.2" stroke="#000" stroke-width="0.6"/>
<line x1="315.71" y1="79.0" x2="315.71" y2="80.2" stroke="#000" stroke-width="0.6"/>
<line x1="318.40" y1="79.0" x2="318.40" y2="80.2" stroke="#000" stroke-width="0.6"/>
<line x1="320.50" y1="79.0" x2="320.50" y2="80.2" stroke="#000" stroke-width="0.6"/>
<line x1="322.21" y1="79.0" x2="322.21" y2="80.2" stroke="#000" stroke-width="0.6"/>
<line x1="323.65" y1="79.0" x2="323.65" y2="80.2" stroke="#000" stroke-width="0.6"/>
<line x1="324.91" y1="79.0" x2="324.91" y2="80.2" stroke="#000" stroke-width="0.6"/>
<line x1="326.01" y1="79.0" x2="326.01" y2="80.2" stroke="#000" stroke-width="0.6"/>
<line x1="327.00" y1="79.0" x2="327.00" y2="81.2" stroke="#000" stroke-width="0.9"/>
<line x1="333.50" y1="79.0" x2="333.50" y2="80.2" stroke="#000" stroke-width="0.6"/>
<line x1="337.31" y1="79.0" x2="337.31" y2="80.2" stroke="#000" stroke-width="0.6"/>
<line x1="340.00" y1="79.0" x2="340.00" y2="80.2" stroke="#000" stroke-width="0.6"/>
<line x1="342.10" y1="79.0" x2="342.10" y2="80.2" stroke="#000" stroke-width="0.6"/>
<line x1="343.81" y1="79.0" x2="343.81" y2="80.2" stroke="#000" stroke-width="0.6"/>
<line x1="345.25" y1="79.0" x2="345.25" y2="80.2" stroke="#000" stroke-width="0.6"/>
<line x1="346.51" y1="79.0" x2="346.51" y2="80.2" stroke="#000" stroke-width="0.6"/>
<line x1="347.61" y1="79.0" x2="347.61" y2="80.2" stroke="#000" stroke-width="0.6"/>
<line x1="348.60" y1="79.0" x2="348.60" y2="81.2" stroke="#000" stroke-width="0.9"/>
<line x1="355.10" y1="79.0" x2="355.10" y2="80.2" stroke="#000" stroke-width="0.6"/>
<line x1="358.91" y1="79.0" x2="358.91" y2="80.2" stroke="#000" stroke-width="0.6"/>
<line x1="361.60" y1="79.0" x2="361.60" y2="80.2" stroke="#000" stroke-width="0.6"/>
<line x1="363.70" y1="79.0" x2="363.70" y2="80.2" stroke="#000" stroke-width="0.6"/>
<line x1="365.41" y1="79.0" x2="365.41" y2="80.2" stroke="#000" stroke-width="0.6"/>
<line x1="366.85" y1="79.0" x2="366.85" y2="80.2" stroke="#000" stroke-width="0.6"/>
<line x1="368.11" y1="79.0" x2="368.11" y2="80.2" stroke="#000" stroke-width="0.6"/>
<line x1="369.21" y1="79.0" x2="369.21" y2="80.2" stroke="#000" stroke-width="0.6"/>
<line x1="370.20" y1="79.0" x2="370.20" y2="81.2" stroke="#000" stroke-width="0.9"/>
<line x1="376.70" y1="79.0" x2="376.70" y2="80.2" stroke="#000" stroke-width="0.6"/>
<line x1="380.51" y1="79.0" x2="380.51" y2="80.2" stroke="#000" stroke-width="0.6"/>
<text x="163.7" y="91.0" font-size="10" text-anchor="middle">10<tspan font-size="7.2" dy="-4.0">-3</tspan></text>
<text x="186.6" y="91.0" font-size="10" text-anchor="middle">10<tspan font-size="7.2" dy="-4.0">-2</tspan></text>
<text x="209.4" y="91.0" font-size="10" text-anchor="middle">10<tspan font-size="7.2" dy="-4.0">-1</tspan></text>
<text x="327.3" y="91.0" font-size="10" text-anchor="middle">10<tspan font-size="7.2" dy="-4.0">-1</tspan></text>
<text x="349.3" y="91.0" font-size="10" text-anchor="middle">10<tspan font-size="7.2" dy="-4.0">0</tspan></text>
<text x="370.6" y="91.0" font-size="10" text-anchor="middle">10<tspan font-size="7.2" dy="-4.0">1</tspan></text>
<text x="185.5" y="106.8" font-size="10" text-anchor="middle">Fluence</text>
<text x="185.5" y="119.2" font-size="10" text-anchor="middle">[µJ/cm<tspan font-size="6.3" dy="-3.4">2</tspan><tspan dy="3.4">]</tspan></text>
<text x="348.8" y="106.8" font-size="10" text-anchor="middle">Fluence</text>
<text x="348.8" y="119.2" font-size="10" text-anchor="middle">[µJ/cm<tspan font-size="6.3" dy="-3.4">2</tspan><tspan dy="3.4">]</tspan></text>
<text transform="translate(135.5,48.4) rotate(-90)" font-size="10" text-anchor="middle">t<tspan font-size="5.8" dy="2.4">2</tspan><tspan dy="-2.4"> [ps]</tspan></text>
<text transform="translate(298.0,49.0) rotate(-90)" font-size="10" text-anchor="middle">t<tspan font-size="5.8" dy="2.4">2</tspan><tspan dy="-2.4"> [ps]</tspan></text>
<rect x="40.0" y="8.3" width="179.5" height="225.1" fill="none" stroke="#000" stroke-width="1.45"/>
<line x1="35.4" y1="83.0" x2="40.0" y2="83.0" stroke="#000" stroke-width="1.2"/>
<line x1="35.4" y1="158.2" x2="40.0" y2="158.2" stroke="#000" stroke-width="1.2"/>
<line x1="35.4" y1="233.4" x2="40.0" y2="233.4" stroke="#000" stroke-width="1.2"/>
<line x1="37.2" y1="45.4" x2="40.0" y2="45.4" stroke="#000" stroke-width="1.2"/>
<line x1="37.2" y1="120.6" x2="40.0" y2="120.6" stroke="#000" stroke-width="1.2"/>
<line x1="37.2" y1="195.8" x2="40.0" y2="195.8" stroke="#000" stroke-width="1.2"/>
<rect x="239.6" y="8.3" width="143.6" height="225.1" fill="none" stroke="#000" stroke-width="1.45"/>
<line x1="235.0" y1="83.0" x2="239.6" y2="83.0" stroke="#000" stroke-width="1.2"/>
<line x1="235.0" y1="158.2" x2="239.6" y2="158.2" stroke="#000" stroke-width="1.2"/>
<line x1="235.0" y1="233.4" x2="239.6" y2="233.4" stroke="#000" stroke-width="1.2"/>
<line x1="236.79999999999998" y1="45.4" x2="239.6" y2="45.4" stroke="#000" stroke-width="1.2"/>
<line x1="236.79999999999998" y1="120.6" x2="239.6" y2="120.6" stroke="#000" stroke-width="1.2"/>
<line x1="236.79999999999998" y1="195.8" x2="239.6" y2="195.8" stroke="#000" stroke-width="1.2"/>
<line x1="40.00" y1="233.4" x2="40.00" y2="238.0" stroke="#000" stroke-width="1.2"/>
<text x="39.70" y="249.3" font-size="11" text-anchor="middle">-10</text>
<line x1="57.95" y1="233.4" x2="57.95" y2="236.20000000000002" stroke="#000" stroke-width="1.2"/>
<line x1="75.90" y1="233.4" x2="75.90" y2="238.0" stroke="#000" stroke-width="1.2"/>
<text x="75.60" y="249.3" font-size="11" text-anchor="middle">-5</text>
<line x1="93.85" y1="233.4" x2="93.85" y2="236.20000000000002" stroke="#000" stroke-width="1.2"/>
<line x1="111.80" y1="233.4" x2="111.80" y2="238.0" stroke="#000" stroke-width="1.2"/>
<text x="111.50" y="249.3" font-size="11" text-anchor="middle">0</text>
<line x1="129.75" y1="233.4" x2="129.75" y2="236.20000000000002" stroke="#000" stroke-width="1.2"/>
<line x1="147.70" y1="233.4" x2="147.70" y2="238.0" stroke="#000" stroke-width="1.2"/>
<text x="147.40" y="249.3" font-size="11" text-anchor="middle">5</text>
<line x1="165.65" y1="233.4" x2="165.65" y2="236.20000000000002" stroke="#000" stroke-width="1.2"/>
<line x1="183.60" y1="233.4" x2="183.60" y2="238.0" stroke="#000" stroke-width="1.2"/>
<text x="183.30" y="249.3" font-size="11" text-anchor="middle">10</text>
<line x1="201.55" y1="233.4" x2="201.55" y2="236.20000000000002" stroke="#000" stroke-width="1.2"/>
<line x1="219.50" y1="233.4" x2="219.50" y2="238.0" stroke="#000" stroke-width="1.2"/>
<text x="219.20" y="249.3" font-size="11" text-anchor="middle">15</text>
<line x1="239.60" y1="233.4" x2="239.60" y2="238.0" stroke="#000" stroke-width="1.2"/>
<text x="239.30" y="249.3" font-size="11" text-anchor="middle">-5</text>
<line x1="257.55" y1="233.4" x2="257.55" y2="236.20000000000002" stroke="#000" stroke-width="1.2"/>
<line x1="275.50" y1="233.4" x2="275.50" y2="238.0" stroke="#000" stroke-width="1.2"/>
<text x="275.20" y="249.3" font-size="11" text-anchor="middle">0</text>
<line x1="293.45" y1="233.4" x2="293.45" y2="236.20000000000002" stroke="#000" stroke-width="1.2"/>
<line x1="311.40" y1="233.4" x2="311.40" y2="238.0" stroke="#000" stroke-width="1.2"/>
<text x="311.10" y="249.3" font-size="11" text-anchor="middle">5</text>
<line x1="329.35" y1="233.4" x2="329.35" y2="236.20000000000002" stroke="#000" stroke-width="1.2"/>
<line x1="347.30" y1="233.4" x2="347.30" y2="238.0" stroke="#000" stroke-width="1.2"/>
<text x="347.00" y="249.3" font-size="11" text-anchor="middle">10</text>
<line x1="365.25" y1="233.4" x2="365.25" y2="236.20000000000002" stroke="#000" stroke-width="1.2"/>
<line x1="383.20" y1="233.4" x2="383.20" y2="238.0" stroke="#000" stroke-width="1.2"/>
<text x="382.90" y="249.3" font-size="11" text-anchor="middle">15</text>
<text x="33.3" y="86.9" font-size="11" text-anchor="end">3</text>
<text x="33.3" y="162.1" font-size="11" text-anchor="end">2</text>
<text x="33.3" y="237.3" font-size="11" text-anchor="end">1</text>
<text x="129.7" y="261.2" font-size="13" text-anchor="middle">t [ps]</text>
<text x="310.5" y="261.2" font-size="13" text-anchor="middle">t [ps]</text>
<text transform="translate(18.7,124.0) rotate(-90)" font-size="13" text-anchor="middle">ΔT<tspan font-size="8" dy="3">an</tspan><tspan dy="-3">/ΔT</tspan><tspan font-size="8" dy="3">n</tspan></text>
<text x="51.9" y="21.6" font-size="14.5">a)</text>
<text x="255.4" y="22.0" font-size="14.5">b)</text>
</svg>
</body></html>
